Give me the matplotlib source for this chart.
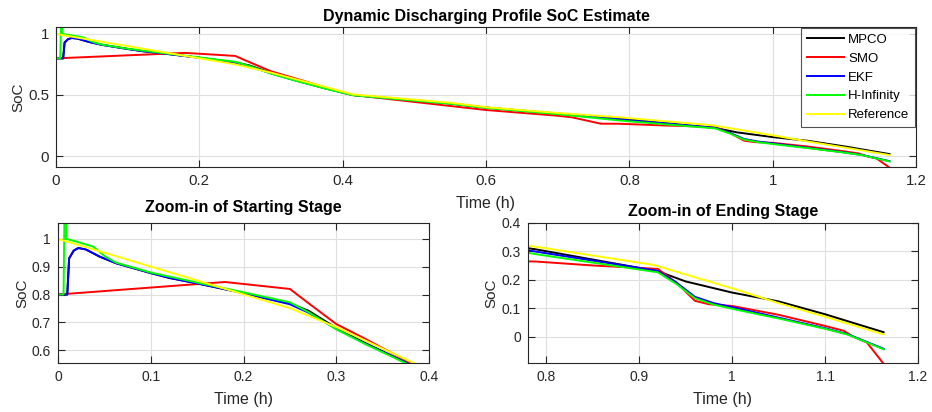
import matplotlib
matplotlib.use("Agg")
import matplotlib.pyplot as plt

# ---------------- data ----------------
series_names = ["MPCO", "SMO", "EKF", "H-Infinity", "Reference"]
series_colors = ["#000000", "#ff0000", "#0000ff", "#00ff00", "#ffff00"]

t_mpco = [0, 0.010, 0.012, 0.017, 0.022, 0.03, 0.045, 0.063, 0.1, 0.121, 0.15, 0.2, 0.25,
          0.27, 0.3, 0.33, 0.375, 0.414, 0.55, 0.6, 0.7, 0.788, 0.92, 0.95, 1.0, 1.05, 1.1, 1.163]
soc_mpco = [0.8, 0.8, 0.93, 0.958, 0.967, 0.962, 0.936, 0.912, 0.877, 0.859, 0.84, 0.805, 0.768,
            0.742, 0.68, 0.628, 0.556, 0.5, 0.431, 0.397, 0.348, 0.307, 0.23, 0.194, 0.155, 0.124, 0.079, 0.016]

t_smo = [0, 0.18, 0.25, 0.27, 0.3, 0.33, 0.375, 0.414, 0.55, 0.6, 0.7, 0.72, 0.76, 0.788,
         0.85, 0.92, 0.94, 0.96, 0.975, 1.0, 1.05, 1.1, 1.12, 1.13, 1.145, 1.163]
soc_smo = [0.8, 0.845, 0.82, 0.769, 0.694, 0.643, 0.563, 0.5, 0.41, 0.377, 0.33, 0.317, 0.265, 0.264,
           0.25, 0.238, 0.19, 0.126, 0.114, 0.108, 0.077, 0.038, 0.021, 0.001, -0.02, -0.095]

t_ekf = [0, 0.010, 0.012, 0.017, 0.022, 0.03, 0.045, 0.063, 0.1, 0.121, 0.15, 0.2, 0.25,
         0.27, 0.3, 0.33, 0.375, 0.414, 0.55, 0.6, 0.7, 0.788, 0.92, 0.94, 0.96, 0.98, 1.0, 1.05, 1.1, 1.125, 1.163]
soc_ekf = [0.8, 0.8, 0.93, 0.958, 0.967, 0.962, 0.936, 0.912, 0.877, 0.859, 0.84, 0.805, 0.765,
           0.735, 0.677, 0.626, 0.556, 0.5, 0.43, 0.397, 0.347, 0.299, 0.231, 0.19, 0.14, 0.118, 0.104, 0.067, 0.03, 0.008, -0.042]

t_hinf = [0, 0.006, 0.0075, 0.009, 0.02, 0.038, 0.051, 0.063, 0.1, 0.15, 0.2, 0.25,
          0.27, 0.3, 0.33, 0.375, 0.414, 0.55, 0.6, 0.7, 0.788, 0.92, 0.94, 0.96, 0.98, 1.0, 1.05, 1.1, 1.125, 1.163]
soc_hinf = [0.8, 0.8, 1.25, 1.0, 0.99, 0.972, 0.936, 0.914, 0.879, 0.843, 0.808, 0.772,
            0.737, 0.675, 0.624, 0.553, 0.498, 0.428, 0.394, 0.343, 0.29, 0.226, 0.185, 0.135, 0.113, 0.098, 0.064, 0.028, 0.007, -0.044]

t_ref = [0, 0.25, 0.3, 0.375, 0.414, 0.55, 0.6, 0.7, 0.788, 0.9154, 1.0, 1.05, 1.1, 1.163]
soc_ref = [1.0, 0.751, 0.683, 0.567, 0.505, 0.437, 0.40, 0.353, 0.316, 0.252, 0.17, 0.118, 0.07, 0.008]

series_t = [t_mpco, t_smo, t_ekf, t_hinf, t_ref]
series_soc = [soc_mpco, soc_smo, soc_ekf, soc_hinf, soc_ref]

top_xticks = [0, 0.2, 0.4, 0.6, 0.8, 1.0, 1.2]
top_xticklabels = ["0", "0.2", "0.4", "0.6", "0.8", "1", "1.2"]
top_yticks = [0, 0.5, 1]
top_yticklabels = ["0", "0.5", "1"]

bl_xticks = [0, 0.1, 0.2, 0.3, 0.4]
bl_xticklabels = ["0", "0.1", "0.2", "0.3", "0.4"]
bl_yticks = [0.6, 0.7, 0.8, 0.9, 1.0]
bl_yticklabels = ["0.6", "0.7", "0.8", "0.9", "1"]

br_xticks = [0.8, 0.9, 1.0, 1.1, 1.2]
br_xticklabels = ["0.8", "0.9", "1", "1.1", "1.2"]
br_yticks = [0, 0.1, 0.2, 0.3, 0.4]
br_yticklabels = ["0", "0.1", "0.2", "0.3", "0.4"]

# ---------------- styling ----------------
plt.rcParams['font.family'] = ['Liberation Sans', 'DejaVu Sans']
axcol = "#262626"

fig = plt.figure(figsize=(9.32, 4.12), dpi=100)
W, H = 932, 412

def add_ax(l, r, t, b):
    return fig.add_axes([l / W, (H - b) / H, (r - l) / W, (b - t) / H])

ax_top = add_ax(56, 916, 27, 167)
ax_bl = add_ax(58, 429, 222.7, 363)
ax_br = add_ax(527.7, 918, 222.7, 363)

def style(ax, xticks, xtl, yticks, ytl, xlim, ylim, title, tick_fs, title_pad):
    for t, s, c, n in zip(series_t, series_soc, series_colors, series_names):
        ax.plot(t, s, color=c, lw=1.4, label=n)
    ax.set_xlim(*xlim)
    ax.set_ylim(*ylim)
    ax.set_xticks(xticks)
    ax.set_xticklabels(xtl)
    ax.set_yticks(yticks)
    ax.set_yticklabels(ytl)
    ax.grid(True, color="#dfdfdf", lw=0.8)
    ax.set_axisbelow(True)
    ax.tick_params(direction="in", top=True, right=True, length=5, width=0.8,
                   colors=axcol, labelsize=tick_fs, pad=5)
    for sp in ax.spines.values():
        sp.set_color(axcol)
        sp.set_linewidth(0.8)
    ax.set_xlabel("Time (h)", fontsize=11.5, color=axcol, labelpad=5.5)
    ax.set_ylabel("SoC", fontsize=11, color=axcol, labelpad=2)
    ax.set_title(title, fontsize=11.5, fontweight="bold", pad=title_pad)

style(ax_top, top_xticks, top_xticklabels, top_yticks, top_yticklabels,
      (0, 1.2), (-0.09, 1.057), "Dynamic Discharging Profile SoC Estimate", 10.8, 4.5)
style(ax_bl, bl_xticks, bl_xticklabels, bl_yticks, bl_yticklabels,
      (0, 0.4), (0.554, 1.058), "Zoom-in of Starting Stage", 10, 8)
style(ax_br, br_xticks, br_xticklabels, br_yticks, br_yticklabels,
      (0.78, 1.2), (-0.092, 0.4), "Zoom-in of Ending Stage", 10, 5)

leg = ax_top.legend(loc="upper right", fontsize=9.5, frameon=True, fancybox=False,
                    edgecolor=axcol, handlelength=2.8, borderaxespad=0.05,
                    labelspacing=0.5, handletextpad=0.3, borderpad=0.45)
leg.get_frame().set_linewidth(0.8)

fig.savefig("out.png", dpi=100)
